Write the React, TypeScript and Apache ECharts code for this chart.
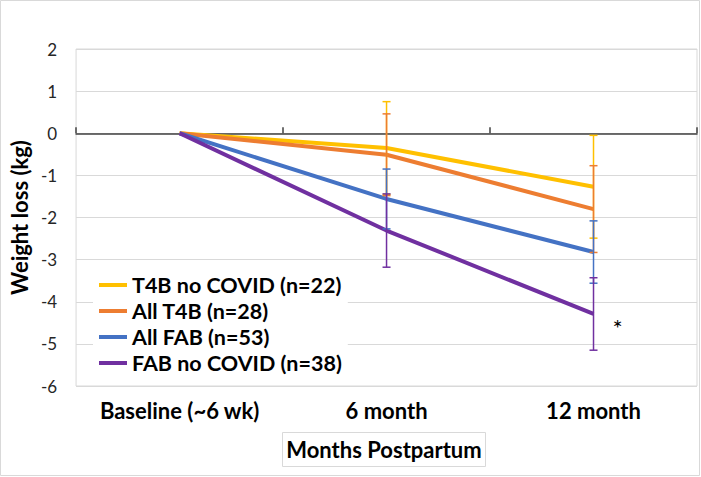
import React, { useEffect, useRef } from "react";
import * as echarts from "echarts";

const categories = ["Baseline (~6 wk)", "6 month", "12 month"];
const seriesNames = ["T4B no COVID (n=22)", "All T4B (n=28)", "All FAB (n=53)", "FAB no COVID (n=38)"];
const t4bNoCovid = [0, -0.35, -1.27];
const t4bNoCovidErr = [0, 1.1, 1.22];
const allT4b = [0, -0.51, -1.8];
const allT4bErr = [0, 0.97, 1.03];
const allFab = [0, -1.56, -2.82];
const allFabErr = [0, 0.71, 0.74];
const fabNoCovid = [0, -2.31, -4.29];
const fabNoCovidErr = [0, 0.87, 0.86];
const colors = ["#FFC000", "#ED7D31", "#4472C4", "#7030A0"];
const starPoint = ["12 month", -4.5];

const FONT = "Lato, 'Open Sans', sans-serif";

export default function App() {
  const ref = useRef<HTMLDivElement>(null);
  useEffect(() => {
    document.body.style.margin = "0";
    const chart = echarts.init(ref.current!, null, { renderer: "svg" });
    const values = [t4bNoCovid, allT4b, allFab, fabNoCovid];
    const errs = [t4bNoCovidErr, allT4bErr, allFabErr, fabNoCovidErr];

    const lineSeries = values.map((v, i) => ({
      type: "line",
      name: seriesNames[i],
      data: v,
      xAxisIndex: 0,
      symbol: "none",
      lineStyle: { color: colors[i], width: 4 },
      itemStyle: { color: colors[i] },
      z: 2,
      ...(i === 3
        ? {
            markPoint: {
              symbol: "circle",
              symbolSize: 0,
              data: [{ coord: starPoint }],
              label: {
                show: true,
                formatter: "*",
                offset: [24, 5],
                color: "#000",
                fontSize: 24,
                fontFamily: FONT,
              },
            },
          }
        : {}),
    }));

    const errSeries = values.map((v, i) => ({
      type: "custom",
      name: seriesNames[i] + " err",
      xAxisIndex: 0,
      z: 3,
      data: v
        .map((val, k) => [k, val - errs[i][k], val + errs[i][k], errs[i][k]])
        .filter((d) => d[3] > 0),
      renderItem: (params: any, api: any) => {
        const x = api.value(0);
        const lo = api.coord([x, api.value(1)]);
        const hi = api.coord([x, api.value(2)]);
        const hw = 4;
        const style = { stroke: colors[i], lineWidth: 1.5 };
        return {
          type: "group",
          children: [
            { type: "line", shape: { x1: hi[0], y1: hi[1], x2: lo[0], y2: lo[1] }, style },
            { type: "line", shape: { x1: hi[0] - hw, y1: hi[1], x2: hi[0] + hw, y2: hi[1] }, style },
            { type: "line", shape: { x1: lo[0] - hw, y1: lo[1], x2: lo[0] + hw, y2: lo[1] }, style },
          ],
        };
      },
    }));

    chart.setOption({
      animation: false,
      grid: {
        left: 72,
        right: 4,
        top: 49,
        bottom: 91,
        show: true,
        borderColor: "#d9d9d9",
        borderWidth: 1,
      },
      legend: {
        orient: "vertical",
        left: 93,
        top: 270,
        data: seriesNames.map((n, i) => ({ name: n, icon: "rect", itemStyle: { color: colors[i] } })),
        itemWidth: 28,
        itemHeight: 4,
        itemGap: 4,
        backgroundColor: "#fff",
        padding: [4, 6, 4, 6],
        textStyle: { fontSize: 21.5, fontWeight: "bold", color: "#000", fontFamily: FONT },
      },
      xAxis: [
        {
          type: "category",
          data: categories,
          position: "bottom",
          axisLine: { show: false, onZero: false },
          axisTick: { show: false },
          splitLine: { show: false },
          axisLabel: {
            interval: 0,
            margin: 13,
            fontSize: 22,
            fontWeight: "bold",
            color: "#000",
            fontFamily: FONT,
          },
        },
        {
          type: "category",
          data: categories,
          position: "bottom",
          axisLine: { show: true, onZero: true, lineStyle: { color: "#404040", width: 1.5 } },
          axisTick: { show: true, inside: true, length: 6, interval: 0, lineStyle: { color: "#404040", width: 1.5 } },
          axisLabel: { show: false },
          splitLine: { show: false },
        },
      ],
      yAxis: {
        type: "value",
        min: -6,
        max: 2,
        interval: 1,
        name: "Weight loss (kg)",
        nameLocation: "middle",
        nameGap: 37,
        nameTextStyle: { fontSize: 22, fontWeight: "bold", color: "#000", fontFamily: FONT },
        axisLine: { show: false },
        axisTick: { show: false },
        splitLine: { lineStyle: { color: "#d9d9d9", width: 1 } },
        axisLabel: { fontSize: 17, color: "#262626", fontFamily: FONT, margin: 19 },
      },
      graphic: [
        {
          type: "rect",
          shape: { x: 0.5, y: 0.5, width: 699, height: 475 },
          style: { fill: "none", stroke: "#d9d9d9", lineWidth: 1 },
          silent: true,
          z: -1,
        },
        {
          type: "rect",
          shape: { x: 282.5, y: 432.5, width: 203, height: 34 },
          style: { fill: "#fff", stroke: "#d9d9d9", lineWidth: 1 },
          silent: true,
        },
        {
          type: "text",
          x: 384,
          y: 449.5,
          style: {
            text: "Months Postpartum",
            fontSize: 22,
            fontWeight: "bold",
            fill: "#000",
            fontFamily: FONT,
            align: "center",
            verticalAlign: "middle",
          },
          silent: true,
        },
      ],
      series: [...lineSeries, ...errSeries],
    });
    return () => chart.dispose();
  }, []);
  return <div ref={ref} style={{ width: 701, height: 477 }} />;
}
